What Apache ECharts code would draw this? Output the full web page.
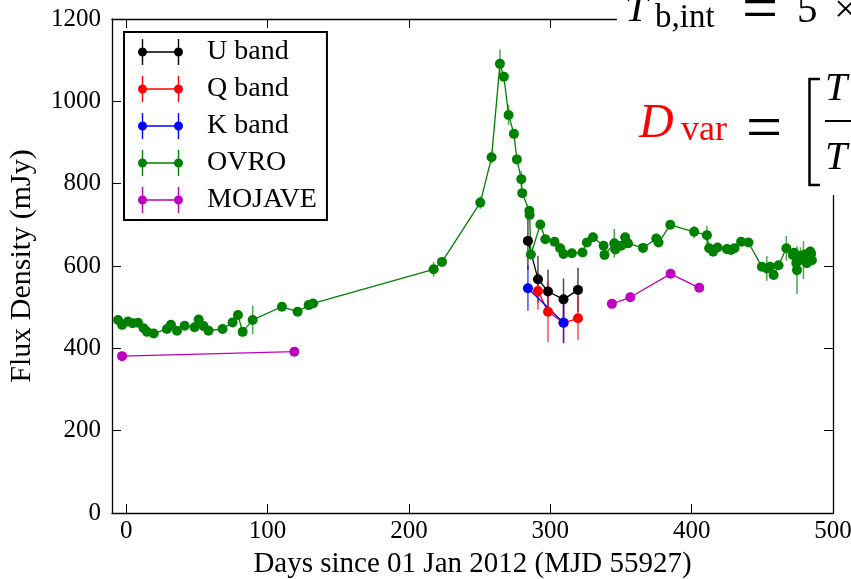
<!DOCTYPE html>
<html>
<head>
<meta charset="utf-8">
<title>Flux density light curve</title>
<script src="https://cdn.jsdelivr.net/npm/echarts@6/dist/echarts.min.js"></script>
<style>
html, body { margin: 0; padding: 0; background: #fff; }
#chart { width: 851px; height: 579px; }
</style>
</head>
<body>
<div id="chart"></div>
<script>
// days since 01 Jan 2012, flux in mJy, err = half length of the error bar
const uDays = [284.2, 291.3, 298.4, 309.4, 319.6];
const uFlux = [661, 568, 538, 519, 542];
const uErr = [70, 57, 53, 51, 54];

const qDays = [291.3, 298.4, 309.4, 319.6];
const qFlux = [539, 489, 462, 473];
const qErr = [45, 73, 50, 53];

const kDays = [284.2, 309.4];
const kFlux = [546, 462];
const kErr = [55, 49];

const ovroDays = [-5.7, -2.9, 1.3, 4.6, 8.4, 12.4, 14.8, 19.5, 28.9, 31.7, 36.0, 41.4, 48.4, 51.3, 54.8, 58.3,
  68.2, 75.3, 79.1, 82.4, 89.5, 110.2, 121.3, 129.1, 132.2, 217.5, 223.4, 250.5, 258.5, 264.4, 267.2,
  270.5, 274.3, 276.4, 279.5, 280.2, 285.2, 285.4, 286.3, 293.0, 296.5, 303.0, 307.0, 309.4, 315.3,
  322.8, 325.9, 330.2, 337.7, 338.4, 345.3, 346.0, 350.2, 353.0, 355.0, 365.6, 375.0, 376.6, 384.9,
  401.8, 410.8, 412.4, 415.2, 418.3, 425.0, 427.8, 430.3, 435.0, 440.2, 449.7, 453.2, 455.6, 458.0,
  461.5, 467.0, 471.6, 472.5, 474.0, 474.5, 475.6, 477.0, 479.1, 480.0, 481.5, 482.5, 483.9, 484.5, 485.1];
const ovroFlux = [469, 457, 465, 461, 462, 449, 440, 436, 447, 457, 443, 455, 451, 470, 454, 443,
  447, 463, 481, 440, 469, 501, 489, 505, 509, 592, 610, 754, 864, 1091, 1060,
  967, 921, 859, 811, 777, 734, 724, 628, 701, 665, 659, 643, 629, 631,
  633, 657, 670, 649, 627, 655, 640, 649, 670, 655, 644, 667, 657, 700,
  683, 675, 643, 635, 645, 641, 639, 643, 659, 657, 598, 594, 598, 578,
  602, 643, 627, 632, 607, 590, 619, 625, 614, 628, 607, 620, 635, 630, 614];
const ovroErr = [8, 8, 8, 8, 8, 8, 8, 8, 8, 8, 8, 8, 8, 8, 8, 8,
  8, 8, 8, 8, 35, 10, 10, 10, 10, 18, 10, 15, 15, 35, 12,
  25, 10, 10, 20, 10, 10, 10, 10, 10, 10, 10, 10, 10, 10,
  10, 10, 10, 10, 10, 35, 10, 10, 10, 10, 10, 10, 10, 10,
  15, 22, 10, 12, 10, 10, 10, 10, 10, 10, 10, 30, 10, 12,
  10, 30, 12, 10, 12, 58, 10, 20, 46, 10, 12, 10, 12, 10, 10];

// null = no line between the two MOJAVE runs
const mojaveDays = [-2.9, 119.0, 230, 343.6, 356.6, 385.1, 405.4];
const mojaveFlux = [381, 392, null, 508, 524, 581, 547];
const mojaveErr = [4, 4, 0, 4, 4, 4, 4];

const xTicks = [0, 100, 200, 300, 400, 500];
const legendNames = ['U band', 'Q band', 'K band', 'OVRO', 'MOJAVE'];

const serif = '"Liberation Serif", "DejaVu Serif", serif';

function errSeries(name, days, flux, err, color) {
  return {
    name: name + ' err',
    type: 'custom',
    z: 1,
    silent: true,
    data: days.map((d, i) => [d, flux[i], err[i]]).filter(p => p[1] != null),
    encode: { x: 0, y: 1 },
    renderItem: function (params, api) {
      const x = api.value(0), y = api.value(1), e = api.value(2);
      const top = api.coord([x, y + e]);
      const bot = api.coord([x, y - e]);
      return {
        type: 'line',
        shape: { x1: top[0], y1: top[1], x2: bot[0], y2: bot[1] },
        style: { stroke: color, lineWidth: 1.5, opacity: 0.7 }
      };
    }
  };
}

function lineSeries(name, days, flux, color) {
  return {
    name: name,
    type: 'line',
    z: 2,
    data: days.map((d, i) => [d, flux[i] == null ? '-' : flux[i]]),
    symbol: 'circle',
    symbolSize: 10,
    connectNulls: false,
    itemStyle: { color: color },
    lineStyle: { color: color, width: 1.3 }
  };
}

const axisCommon = {
  axisLine: { show: true, onZero: false, lineStyle: { color: '#000', width: 1.3 } },
  axisTick: { show: true, inside: true, length: 9, lineStyle: { color: '#000', width: 1 } },
  splitLine: { show: false }
};

const option = {
  animation: false,
  backgroundColor: '#fff',
  grid: { left: 112, right: 18, top: 19, bottom: 66, outerBoundsMode: 'none' },
  legend: {
    data: legendNames,
    orient: 'vertical',
    left: 124,
    top: 32,
    padding: [6, 10, 6, 14],
    itemGap: 9,
    itemWidth: 45,
    itemHeight: 26,
    selectedMode: false,
    icon: 'path://M0 13A4.5 4.5 0 1 1 9 13A4.5 4.5 0 1 1 0 13Z M36 13A4.5 4.5 0 1 1 45 13A4.5 4.5 0 1 1 36 13Z M4.5 12.3L40.5 12.3L40.5 13.7L4.5 13.7Z M3.8 0L5.2 0L5.2 26L3.8 26Z M39.8 0L41.2 0L41.2 26L39.8 26Z',
    itemStyle: { borderWidth: 0 },
    backgroundColor: '#fff',
    borderColor: '#000',
    borderWidth: 2,
    textStyle: { fontFamily: serif, fontSize: 28, color: '#000', padding: [0, 0, 0, 19] }
  },
  xAxis: [
    Object.assign({}, axisCommon, {
      type: 'value', min: -10, max: 500, position: 'bottom',
      name: 'Days since 01 Jan 2012 (MJD 55927)', nameLocation: 'middle', nameGap: 37,
      nameTextStyle: { fontFamily: serif, fontSize: 29, color: '#000' },
      axisTick: Object.assign({}, axisCommon.axisTick, { customValues: xTicks }),
      axisLabel: { customValues: xTicks, fontFamily: serif, fontSize: 25, color: '#000', margin: 6 }
    }),
    Object.assign({}, axisCommon, {
      type: 'value', min: -10, max: 500, position: 'top',
      axisTick: Object.assign({}, axisCommon.axisTick, { customValues: xTicks }),
      axisLabel: { show: false }
    })
  ],
  yAxis: [
    Object.assign({}, axisCommon, {
      type: 'value', min: 0, max: 1200, interval: 200, position: 'left',
      name: 'Flux Density (mJy)', nameLocation: 'middle', nameGap: 75,
      nameTextStyle: { fontFamily: serif, fontSize: 30, color: '#000' },
      axisLabel: { fontFamily: serif, fontSize: 25, color: '#000', margin: 11, formatter: v => String(v) }
    }),
    Object.assign({}, axisCommon, {
      type: 'value', min: 0, max: 1200, interval: 200, position: 'right',
      axisLabel: { show: false }
    })
  ],
  series: [
    errSeries('U band', uDays, uFlux, uErr, '#000000'),
    lineSeries('U band', uDays, uFlux, '#000000'),
    errSeries('Q band', qDays, qFlux, qErr, '#ff0000'),
    lineSeries('Q band', qDays, qFlux, '#ff0000'),
    errSeries('K band', kDays, kFlux, kErr, '#0000ff'),
    lineSeries('K band', kDays, kFlux, '#0000ff'),
    errSeries('OVRO', ovroDays, ovroFlux, ovroErr, '#008000'),
    lineSeries('OVRO', ovroDays, ovroFlux, '#008000'),
    errSeries('MOJAVE', mojaveDays, mojaveFlux, mojaveErr, '#bf00bf'),
    lineSeries('MOJAVE', mojaveDays, mojaveFlux, '#bf00bf')
  ],
  // formula text that sits over the top right corner, on a white box
  graphic: [
    { type: 'rect', z: 100, shape: { x: 617, y: 0, width: 234, height: 195 }, style: { fill: '#fff' } },
    { type: 'text', z: 101, style: { x: 625, y: 10, text: 'T', font: 'italic 41px ' + serif, fill: '#000', verticalAlign: 'middle' } },
    { type: 'text', z: 101, style: { x: 655, y: 18, text: 'b,int', font: '33px ' + serif, fill: '#000', verticalAlign: 'middle' } },
    { type: 'text', z: 101, style: { x: 742, y: 12, text: '=', font: '64px ' + serif, fill: '#000', verticalAlign: 'middle' } },
    { type: 'text', z: 101, style: { x: 797, y: 11, text: '5', font: '41px ' + serif, fill: '#000', verticalAlign: 'middle' } },
    { type: 'text', z: 101, style: { x: 834, y: 11, text: '×', font: '41px ' + serif, fill: '#000', verticalAlign: 'middle' } },
    { type: 'text', z: 101, style: { x: 639, y: 124, text: 'D', font: 'italic 48px ' + serif, fill: '#ff0000', verticalAlign: 'middle' } },
    { type: 'text', z: 101, style: { x: 681, y: 131, text: 'var', font: '36px ' + serif, fill: '#ff0000', verticalAlign: 'middle' } },
    { type: 'text', z: 101, style: { x: 746, y: 131, text: '=', font: '64px ' + serif, fill: '#000', verticalAlign: 'middle' } },
    { type: 'polyline', z: 101, shape: { points: [[820, 79], [809.5, 79], [809.5, 185], [820, 185]] }, style: { stroke: '#000', lineWidth: 2.5, fill: null } },
    { type: 'text', z: 101, style: { x: 825, y: 89, text: 'T', font: 'italic 40px ' + serif, fill: '#000', verticalAlign: 'middle' } },
    { type: 'line', z: 101, shape: { x1: 825, y1: 121, x2: 851, y2: 121 }, style: { stroke: '#000', lineWidth: 2 } },
    { type: 'text', z: 101, style: { x: 825, y: 158, text: 'T', font: 'italic 40px ' + serif, fill: '#000', verticalAlign: 'middle' } }
  ]
};

const chart = echarts.init(document.getElementById('chart'));
chart.setOption(option);
</script>
</body>
</html>
